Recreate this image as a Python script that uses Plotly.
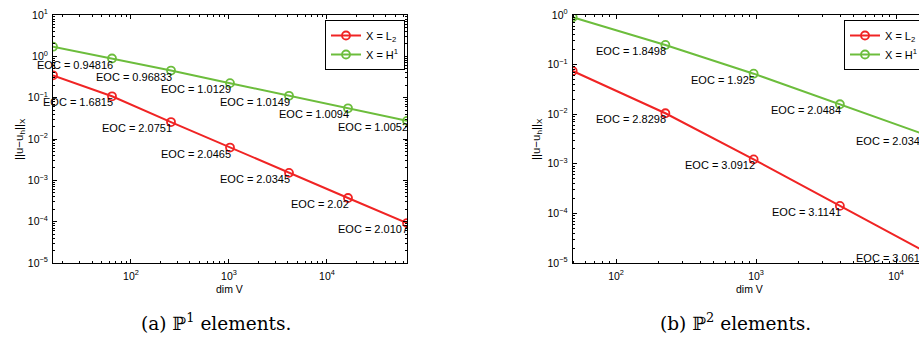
import numpy as np
import plotly.graph_objects as go

# ---------------- data ----------------
dim_p1 = [16, 64, 256, 1024, 4096, 16384, 65536]
l2_p1 = [0.347, 0.108, 0.0257, 0.00621, 0.001516, 0.000374, 0.0000927]
h1_p1 = [1.71, 0.886, 0.453, 0.2244, 0.1111, 0.0552, 0.0275]
eoc_l2_p1 = ["1.6815", "2.0751", "2.0465", "2.0345", "2.02", "2.0107"]
eoc_h1_p1 = ["0.94816", "0.96833", "1.0129", "1.0149", "1.0094", "1.0052"]

dim_p2 = [49, 225, 961, 3969, 16129]
l2_p2 = [0.0743, 0.01045, 0.001226, 0.0001416, 0.0000170]
h1_p2 = [0.898, 0.249, 0.0656, 0.01586, 0.00387]
eoc_l2_p2 = ["2.8298", "3.0912", "3.1141", "3.0613"]
eoc_h1_p2 = ["1.8498", "1.925", "2.0484", "2.0341"]

xtick_vals = [100, 1000, 10000]
xtick_text = ["10<sup>2</sup>", "10<sup>3</sup>", "10<sup>4</sup>"]
ytick_vals1 = [1e-5, 1e-4, 1e-3, 1e-2, 1e-1, 1e0, 1e1]
ytick_text1 = ["10<sup>−5</sup>", "10<sup>−4</sup>", "10<sup>−3</sup>", "10<sup>−2</sup>",
               "10<sup>−1</sup>", "10<sup>0</sup>", "10<sup>1</sup>"]
ytick_vals2 = ytick_vals1[:-1]
ytick_text2 = ytick_text1[:-1]

series_names = ["X = L<sub>2</sub>", "X = H<sup>1</sup>"]
captions = ["(a) ℙ<sup>1</sup> elements.", "(b) ℙ<sup>2</sup> elements."]

# ---------------- style ----------------
W, H = 919, 337
RED = "#f02424"
GREEN = "#6cbd3c"
FONT = "Liberation Sans, Arial, Helvetica, sans-serif"
TOP, BOT = 15, 263
ydom = [(H - BOT) / H, (H - TOP) / H]

# left plot pixel extents
L0, L1 = 53, 407
# right plot: left edge and px/decade (axis continues past window edge)
R0 = 572.7
R_ppd = 140.0
r_lo = np.log10(dim_p2[0])
r_hi_vis = r_lo + (W - R0) / R_ppd

fig = go.Figure()

def add_series(x, ys, xa, ya, leg):
    for y, name, col in zip(ys, series_names, [RED, GREEN]):
        fig.add_trace(go.Scatter(
            x=x, y=y, mode="lines+markers", name=name,
            xaxis=xa, yaxis=ya, legend=leg,
            line=dict(color=col, width=2),
            marker=dict(symbol="circle-open", size=8, color=col, line=dict(width=1.8, color=col)),
            cliponaxis=True,
        ))

add_series(dim_p1, [l2_p1, h1_p1], "x", "y", "legend")
add_series(dim_p2, [l2_p2, h1_p2], "x2", "y2", "legend2")

ann = []
def add_eoc(x, y, labels, xr, yr, xmax=None, ppd=None):
    for i, lab in enumerate(labels):
        lx = np.log10(x[i + 1])
        shift = 3
        if xmax is not None and lx > xmax:
            # anchor at the visible edge, shift by the remaining distance in pixels
            shift += (lx - xmax) * ppd
            lx = xmax
        ann.append(dict(
            x=lx, y=np.log10(y[i + 1]), xref=xr, yref=yr,
            text="EOC = " + lab, showarrow=False, xanchor="right", yanchor="top",
            xshift=shift, yshift=2, font=dict(family=FONT, size=11, color="black"),
        ))

add_eoc(dim_p1, l2_p1, eoc_l2_p1, "x", "y")
add_eoc(dim_p1, h1_p1, eoc_h1_p1, "x", "y")
add_eoc(dim_p2, l2_p2, eoc_l2_p2, "x2", "y2", r_hi_vis - 1e-6, R_ppd)
add_eoc(dim_p2, h1_p2, eoc_h1_p2, "x2", "y2", r_hi_vis - 1e-6, R_ppd)

# axis titles and captions
for cx, lx in [(229, 20), (749, 537)]:
    ann.append(dict(x=cx / W, y=1 - 289 / H, xref="paper", yref="paper", text="dim V",
                    xanchor="center", yanchor="middle",
                    showarrow=False, font=dict(family=FONT, size=10.5, color="black")))
    ann.append(dict(x=lx / W, y=1 - 139 / H, xref="paper", yref="paper",
                    text="||u−u<sub>h</sub>||<sub>X</sub>", textangle=-90,
                    xanchor="center", yanchor="middle",
                    showarrow=False, font=dict(family=FONT, size=11.5, color="black")))
for cx, cap in zip([216, 735], captions):
    ann.append(dict(x=cx / W, y=1 - 322 / H, xref="paper", yref="paper", text=cap,
                    xanchor="center", yanchor="middle",
                    showarrow=False, font=dict(family="DejaVu Serif, Liberation Serif, serif",
                                               size=18.5, color="black")))

common_ax = dict(
    type="log", showgrid=False, zeroline=False, showline=True, linecolor="black", linewidth=1,
    ticks="inside", ticklen=4, tickcolor="black",
    minor=dict(ticks="inside", ticklen=2, tickcolor="black", dtick="D1", showgrid=False),
    tickfont=dict(family=FONT, size=10.5, color="black"),
)

fig.update_layout(
    width=W, height=H, margin=dict(l=0, r=0, t=0, b=0, autoexpand=False),
    paper_bgcolor="white", plot_bgcolor="white",
    xaxis=dict(common_ax, domain=[L0 / W, L1 / W], anchor="y",
               range=[np.log10(dim_p1[0]), np.log10(dim_p1[-1])],
               tickvals=xtick_vals, ticktext=xtick_text, mirror="allticks",
               ticklabelstandoff=3),
    yaxis=dict(common_ax, domain=ydom, anchor="x", range=[-5, 1],
               tickvals=ytick_vals1, ticktext=ytick_text1, mirror="allticks",
               ticklabelstandoff=2),
    xaxis2=dict(common_ax, domain=[R0 / W, 1.0], anchor="y2",
                range=[r_lo, r_hi_vis],
                tickvals=xtick_vals, ticktext=xtick_text, mirror="allticks",
                ticklabelstandoff=3),
    yaxis2=dict(common_ax, domain=ydom, anchor="x2", range=[-5, 0],
                tickvals=ytick_vals2, ticktext=ytick_text2, mirror=False,
                ticklabelstandoff=2),
    legend=dict(x=325 / W, y=1 - 20 / H, xanchor="left", yanchor="top",
                bordercolor="black", borderwidth=1, bgcolor="white",
                font=dict(family=FONT, size=11, color="black"), tracegroupgap=0),
    legend2=dict(x=844 / W, y=1 - 20 / H, xanchor="left", yanchor="top",
                 bordercolor="black", borderwidth=1, bgcolor="white",
                 font=dict(family=FONT, size=11, color="black"), tracegroupgap=0),
    annotations=ann,
    showlegend=True,
)

fig.write_html("out.html")
